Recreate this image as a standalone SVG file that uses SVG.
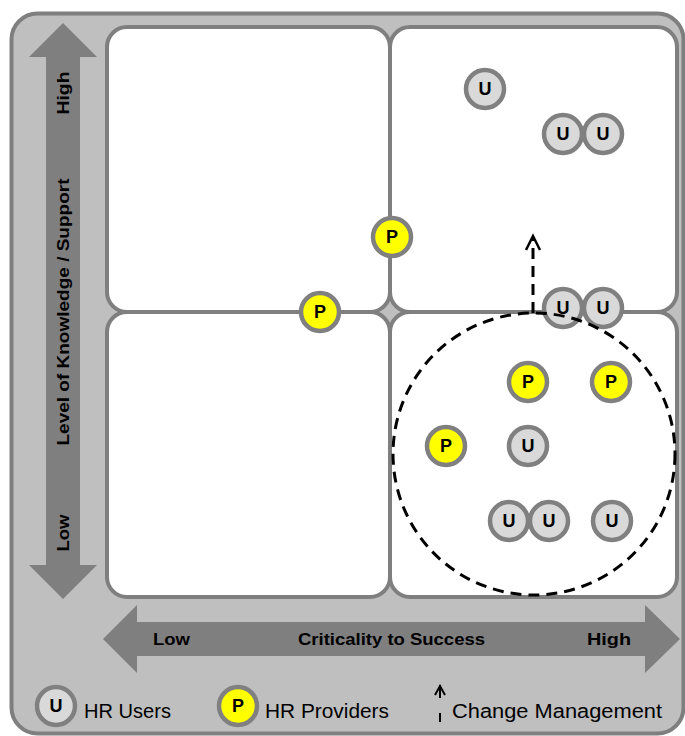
<svg xmlns="http://www.w3.org/2000/svg" width="685" height="736" viewBox="0 0 685 736">
  <style>
    .quad { fill: #ffffff; stroke: #7f7f7f; stroke-width: 4; }
    .axis { fill: #7f7f7f; }
    .axt { font-family: "Liberation Sans", Arial, sans-serif; font-weight: bold; font-size: 16px; fill: #000; }
    .lgt { font-family: "Liberation Sans", Arial, sans-serif; font-size: 20px; fill: #000; }
    .u circle { fill: #d9d9d9; stroke: #808080; stroke-width: 4.5; }
    .p circle { fill: #ffff00; stroke: #808080; stroke-width: 4.5; }
    .node text { font-family: "Liberation Sans", Arial, sans-serif; font-weight: bold; font-size: 18px; text-anchor: middle; fill: #000; }
    .dash { fill: none; stroke: #000; stroke-width: 3; stroke-dasharray: 11 7; }
    .head { fill: none; stroke: #000; stroke-width: 2.5; }
  </style>

  <!-- background panel -->
  <rect x="11.5" y="13.5" width="672" height="720" rx="26" fill="#bfbfbf" stroke="#7f7f7f" stroke-width="4"/>

  <!-- quadrants -->
  <g id="quadrants">
    <rect id="q-top-left" class="quad" x="107" y="27" width="283" height="285" rx="20"/>
    <rect id="q-top-right" class="quad" x="390" y="27" width="287" height="285" rx="20"/>
    <rect id="q-bottom-left" class="quad" x="107" y="312" width="283" height="285" rx="20"/>
    <rect id="q-bottom-right" class="quad" x="390" y="312" width="287" height="285" rx="20"/>
  </g>

  <!-- axes -->
  <g id="axis-y">
    <polygon class="axis" points="63,23 97,57 80,57 80,565 97,565 63,599 29,565 46,565 46,57 29,57"/>
    <text class="axt" transform="rotate(-90 69 93)" x="69" y="93" text-anchor="middle" textLength="43" lengthAdjust="spacingAndGlyphs">High</text>
    <text class="axt" transform="rotate(-90 69 312)" x="69" y="312" text-anchor="middle" textLength="267" lengthAdjust="spacingAndGlyphs">Level of Knowledge / Support</text>
    <text class="axt" transform="rotate(-90 69 533)" x="69" y="533" text-anchor="middle" textLength="37" lengthAdjust="spacingAndGlyphs">Low</text>
  </g>
  <g id="axis-x">
    <polygon class="axis" points="103,639 137,605 137,622 645,622 645,605 680,639 645,673 645,656 137,656 137,673"/>
    <text class="axt" x="153" y="645" textLength="37" lengthAdjust="spacingAndGlyphs">Low</text>
    <text class="axt" x="298" y="645" textLength="187" lengthAdjust="spacingAndGlyphs">Criticality to Success</text>
    <text class="axt" x="587" y="645" textLength="44" lengthAdjust="spacingAndGlyphs">High</text>
  </g>

  <!-- stakeholders -->
  <g id="u1" class="node u"><circle cx="485" cy="89" r="19"/><text x="485" y="95">U</text></g>
  <g id="u2" class="node u"><circle cx="563" cy="134" r="19"/><text x="563" y="140">U</text></g>
  <g id="u3" class="node u"><circle cx="603" cy="134" r="19"/><text x="603" y="140">U</text></g>
  <g id="p1" class="node p"><circle cx="392" cy="237" r="19"/><text x="392" y="243">P</text></g>
  <g id="p2" class="node p"><circle cx="320" cy="312" r="19"/><text x="320" y="318">P</text></g>
  <g id="u4" class="node u"><circle cx="563" cy="308" r="19"/><text x="563" y="314">U</text></g>
  <g id="u5" class="node u"><circle cx="603" cy="308" r="19"/><text x="603" y="314">U</text></g>
  <g id="p3" class="node p"><circle cx="528" cy="382" r="19"/><text x="528" y="388">P</text></g>
  <g id="p4" class="node p"><circle cx="611" cy="382" r="19"/><text x="611" y="388">P</text></g>
  <g id="p5" class="node p"><circle cx="446" cy="446" r="19"/><text x="446" y="452">P</text></g>
  <g id="u6" class="node u"><circle cx="528" cy="446" r="19"/><text x="528" y="452">U</text></g>
  <g id="u7" class="node u"><circle cx="509" cy="521" r="19"/><text x="509" y="527">U</text></g>
  <g id="u8" class="node u"><circle cx="549" cy="521" r="19"/><text x="549" y="527">U</text></g>
  <g id="u9" class="node u"><circle cx="612" cy="521" r="19"/><text x="612" y="527">U</text></g>

  <!-- change management scope and direction -->
  <g id="connectors">
    <circle class="dash" cx="534" cy="454" r="141"/>
    <line class="dash" x1="533" y1="313" x2="533" y2="238"/>
    <path class="head" d="M526,250 L533,236 L540,250"/>
  </g>

  <!-- legend -->
  <g id="legend">
    <g id="legend-u" class="node u"><circle cx="56" cy="706" r="19"/><text x="56" y="712">U</text></g>
    <text class="lgt" x="84" y="718" textLength="87" lengthAdjust="spacingAndGlyphs">HR Users</text>
    <g id="legend-p" class="node p"><circle cx="238" cy="706" r="19"/><text x="238" y="712">P</text></g>
    <text class="lgt" x="265" y="718" textLength="124" lengthAdjust="spacingAndGlyphs">HR Providers</text>
    <g id="legend-arrow">
      <line x1="440" y1="722" x2="440" y2="713" stroke="#000" stroke-width="2"/>
      <line x1="440" y1="698" x2="440" y2="685" stroke="#000" stroke-width="2"/>
      <path d="M435,695 L440,686 L445,695" fill="none" stroke="#000" stroke-width="2"/>
    </g>
    <text class="lgt" x="452" y="718" textLength="210" lengthAdjust="spacingAndGlyphs">Change Management</text>
  </g>
</svg>
